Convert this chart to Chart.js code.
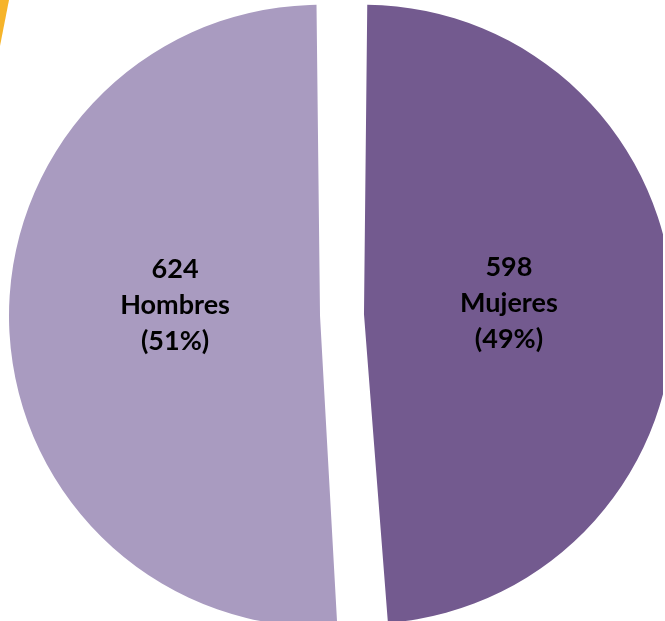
<!DOCTYPE html>
<html>
<head>
<meta charset="utf-8">
<script src="https://cdn.jsdelivr.net/npm/chart.js@4.4.0/dist/chart.umd.min.js"></script>
<style>
  html, body { margin: 0; padding: 0; background: #fff; overflow: hidden; }
  #wrap { position: relative; width: 665px; height: 621px; }
  #chart { position: absolute; left: 0; top: 0; }
  .corner { position: absolute; left: 0; top: 0; width: 9px; height: 46px;
    background: #f6b42a; clip-path: polygon(0 0, 100% 0, 0 100%); }
</style>
</head>
<body>
<div id="wrap">
  <canvas id="chart" width="663" height="621"></canvas>
  <div class="corner"></div>
</div>
<script>
const labels = ['Mujeres', 'Hombres'],
  counts = [598, 624],
  colors = ['#735a8f', '#a99bc0'];

const total = counts.reduce((a, b) => a + b, 0);

// three-line label inside each slice: count, name, percent
const sliceLabels = {
  id: 'sliceLabels',
  afterDatasetsDraw(chart) {
    const ctx = chart.ctx;
    const meta = chart.getDatasetMeta(0);
    ctx.save();
    ctx.font = 'bold 27px Lato';
    ctx.fillStyle = '#000';
    ctx.textAlign = 'center';
    ctx.textBaseline = 'middle';
    meta.data.forEach((arc, i) => {
      const { x, y, startAngle, endAngle, outerRadius } =
        arc.getProps(['x', 'y', 'startAngle', 'endAngle', 'outerRadius'], true);
      const mid = (startAngle + endAngle) / 2;
      const px = x + Math.cos(mid) * outerRadius * 0.578;
      const py = y + Math.sin(mid) * outerRadius * 0.1 - 11;
      const pct = Math.round(counts[i] / total * 100);
      const lines = [String(counts[i]), labels[i], '(' + pct + '%)'];
      lines.forEach((t, j) => ctx.fillText(t, px, py + (j - 1) * 36));
    });
    ctx.restore();
  }
};

new Chart(document.getElementById('chart'), {
  type: 'pie',
  data: {
    labels,
    datasets: [{
      data: counts,
      backgroundColor: colors,
      borderWidth: 0,
      offset: 88,
      clip: false
    }]
  },
  options: {
    responsive: false,
    animation: false,
    radius: 289,
    layout: { padding: { left: 21, top: 9 } },
    plugins: {
      legend: { display: false },
      tooltip: { enabled: false }
    }
  },
  plugins: [sliceLabels]
});
</script>
</body>
</html>
